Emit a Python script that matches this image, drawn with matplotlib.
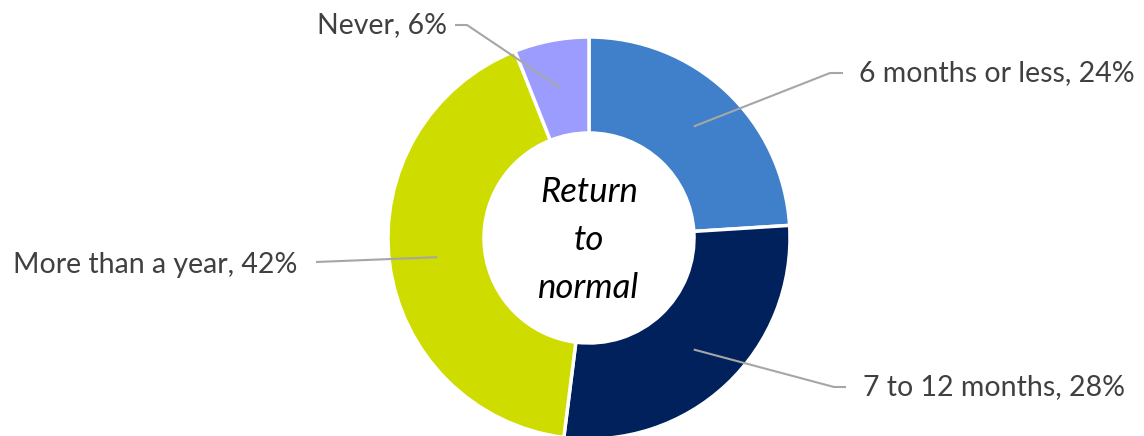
import numpy as np
import matplotlib
matplotlib.use("Agg")
import matplotlib.pyplot as plt

labels = ["6 months or less", "7 to 12 months", "More than a year", "Never"]
shares = [24, 28, 42, 6]
colors = ["#4080CB", "#00215B", "#CEDC00", "#9C9CFF"]

W, H = 1144, 436
cx, cy = 589, H - 238
r_out, r_in = 201, 105

plt.rcParams["font.family"] = ["Lato", "DejaVu Sans"]

fig = plt.figure(figsize=(W / 100, H / 100), dpi=100)
ax = fig.add_axes([0, 0, 1, 1])

wedges, _ = ax.pie(shares, colors=colors, startangle=90, counterclock=False,
                   center=(cx, cy), radius=r_out, frame=True,
                   wedgeprops=dict(width=r_out - r_in, edgecolor="white", linewidth=2.5))
ax.set_xlim(0, W)
ax.set_ylim(0, H)
ax.set_aspect("equal")
ax.axis("off")

# label layout: (elbow x, elbow y from top, text x, text y from top, ha)
layout = [
    (830, 73, 859, 73, "left"),
    (834, 387, 863, 387, "left"),
    (316, 262, 297, 265, "right"),
    (467, 25, 447, 25, "right"),
]
line_ends = [843, 846, 316, 455]

r_mid = (r_out + r_in) / 2
for w, lab, val, (ex, ey, tx, ty, ha), lx in zip(wedges, labels, shares, layout, line_ends):
    ang = np.deg2rad((w.theta1 + w.theta2) / 2)
    ax_, ay_ = cx + r_mid * np.cos(ang), cy + r_mid * np.sin(ang)
    ax.plot([ax_, ex, lx], [ay_, H - ey, H - ey], color="#A6A6A6", lw=1.5,
            solid_capstyle="butt", zorder=3)
    ax.text(tx, H - ty, f"{lab}, {val}%", ha=ha, va="center",
            fontsize=20.5, color="#404040")

ax.text(cx, cy - 2, "Return\nto\nnormal", ha="center", va="center", fontsize=25,
        style="italic", color="black", linespacing=1.6)

fig.savefig("out.png", dpi=100)
